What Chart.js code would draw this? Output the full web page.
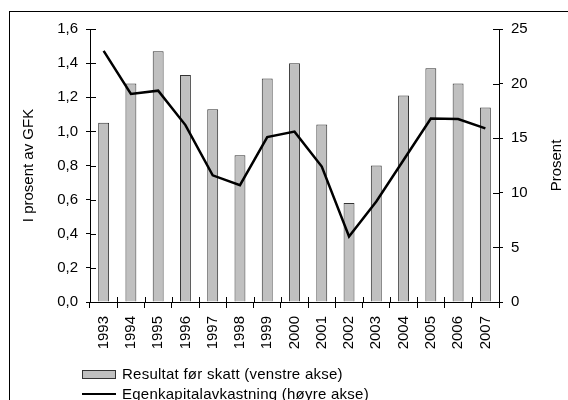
<!DOCTYPE html>
<html>
<head>
<meta charset="utf-8">
<script src="https://cdn.jsdelivr.net/npm/chart.js@4/dist/chart.umd.min.js"></script>
<style>
    html, body {
        margin: 0;
        padding: 0;
        width: 568px;
        height: 400px;
        overflow: hidden;
        background: #ffffff;
        font-family: "Liberation Sans", Arial, sans-serif;
    }

    .chart-box {
        position: absolute;
        left: 0;
        top: 0;
        width: 568px;
        height: 360px;
    }

    .frame {
        position: absolute;
        left: 9px;
        top: 11px;
        width: 600px;
        height: 420px;
        border-top: 1px solid #000;
        border-left: 1px solid #000;
        pointer-events: none;
    }

    .legend-row {
        position: absolute;
        left: 82px;
        height: 18px;
        line-height: 18px;
        font-size: 15px;
        letter-spacing: 0.25px;
        color: #000;
        white-space: nowrap;
    }

    .legend-row span {
        position: absolute;
        left: 40px;
        top: 0;
    }

    .legend-bar {
        position: absolute;
        left: 0;
        top: 5px;
        width: 32px;
        height: 7px;
        background: #c0c0c0;
        border: 1px solid #333;
    }

    .legend-line {
        position: absolute;
        left: 0;
        top: 8px;
        width: 34px;
        height: 2px;
        background: #000;
    }
</style>
</head>
<body>
<div class="chart-box"><canvas id="chart"></canvas></div>
<div class="frame"></div>

<div class="legend-row" style="top: 365px;">
    <div class="legend-bar"></div><span>Resultat før skatt (venstre akse)</span>
</div>
<div class="legend-row" style="top: 385px;">
    <div class="legend-line"></div><span>Egenkapitalavkastning (høyre akse)</span>
</div>

<script>
const years = ['1993', '1994', '1995', '1996', '1997', '1998', '1999', '2000',
    '2001', '2002', '2003', '2004', '2005', '2006', '2007'];

// Resultat før skatt, i prosent av GFK (venstre akse)
const resultatForSkatt = [1.05, 1.28, 1.47, 1.33, 1.13, 0.86, 1.31, 1.40,
    1.04, 0.58, 0.80, 1.21, 1.37, 1.28, 1.14];

// Egenkapitalavkastning, prosent (høyre akse)
const egenkapitalavkastning = [23.0, 19.05, 19.35, 16.2, 11.6, 10.7, 15.1, 15.6,
    12.4, 6.0, 9.2, 13.0, 16.8, 16.75, 15.9];

const leftTicks = [0, 0.2, 0.4, 0.6, 0.8, 1.0, 1.2, 1.4, 1.6];
const rightTicks = [0, 5, 10, 15, 20, 25];

const fontFamily = '"Liberation Sans", Arial, sans-serif';
const axisColor = '#000000';

// tick marks that also reach into the plot, plus the right axis title
const extrasPlugin = {
    id: 'extras',
    afterDatasetsDraw(chart) {
        const ctx = chart.ctx;
        const area = chart.chartArea;
        const y = chart.scales.y;
        const y2 = chart.scales.y2;
        const x = chart.scales.x;

        ctx.save();
        ctx.strokeStyle = axisColor;
        ctx.lineWidth = 1;
        ctx.beginPath();

        leftTicks.forEach((value) => {
            const py = Math.round(y.getPixelForValue(value)) + 0.5;
            ctx.moveTo(area.left, py);
            ctx.lineTo(area.left + 6, py);
        });

        rightTicks.forEach((value) => {
            const py = Math.round(y2.getPixelForValue(value)) + 0.5;
            ctx.moveTo(area.right, py);
            ctx.lineTo(area.right - 6, py);
        });

        for (let i = 0; i <= years.length; i++) {
            const px = Math.round(x.getPixelForTick(Math.min(i, years.length - 1))
                + (i === years.length ? x.width / years.length / 2 : -x.width / years.length / 2)) + 0.5;
            ctx.moveTo(px, area.bottom);
            ctx.lineTo(px, area.bottom - 5);
        }

        ctx.stroke();

        ctx.fillStyle = '#000';
        ctx.font = '15px ' + fontFamily;
        ctx.textAlign = 'center';
        ctx.textBaseline = 'middle';
        ctx.translate(557, (area.top + area.bottom) / 2);
        ctx.rotate(-Math.PI / 2);
        ctx.fillText('Prosent', 0, 0);
        ctx.restore();
    },
};

new Chart(document.getElementById('chart'), {
    type: 'bar',

    data: {
        labels: years,

        datasets: [
            {
                label: 'Egenkapitalavkastning (høyre akse)',
                type: 'line',
                data: egenkapitalavkastning,
                yAxisID: 'y2',
                borderColor: '#000000',
                borderWidth: 2.5,
                pointRadius: 0,
                tension: 0,
                fill: false,
                order: 0,
            },
            {
                label: 'Resultat før skatt (venstre akse)',
                data: resultatForSkatt,
                yAxisID: 'y',
                backgroundColor: '#c0c0c0',
                borderColor: '#333333',
                borderWidth: 1,
                barPercentage: 0.4,
                categoryPercentage: 1.0,
                order: 1,
            },
        ],
    },

    options: {
        responsive: true,
        maintainAspectRatio: false,
        animation: false,
        devicePixelRatio: 1,

        layout: {
            padding: { top: 29, bottom: 8, left: 0, right: 0 },
        },

        plugins: {
            legend: { display: false },
            tooltip: { enabled: false },
        },

        scales: {
            x: {
                type: 'category',
                offset: true,
                afterFit(scale) {
                    scale.height = 50;
                },
                grid: {
                    offset: true,
                    drawOnChartArea: false,
                    tickLength: 6,
                    color: axisColor,
                },
                border: { color: axisColor, width: 1 },
                ticks: {
                    color: '#000',
                    font: { family: fontFamily, size: 15 },
                    minRotation: 90,
                    maxRotation: 90,
                    padding: 8,
                    autoSkip: false,
                },
            },

            y: {
                type: 'linear',
                position: 'left',
                min: 0,
                max: 1.6,
                afterFit(scale) {
                    scale.width = 90;
                },
                afterBuildTicks(scale) {
                    scale.ticks = leftTicks.map((value) => ({ value }));
                },
                grid: {
                    drawOnChartArea: false,
                    tickLength: 4,
                    color: axisColor,
                },
                border: { color: axisColor, width: 1 },
                ticks: {
                    color: '#000',
                    font: { family: fontFamily, size: 15 },
                    padding: 8,
                    callback(value) {
                        return value.toFixed(1).replace('.', ',');
                    },
                },
                title: {
                    display: true,
                    text: 'I prosent av GFK',
                    color: '#000',
                    font: { family: fontFamily, size: 15 },
                    padding: { top: 20 },
                },
            },

            y2: {
                type: 'linear',
                position: 'right',
                min: 0,
                max: 25,
                afterFit(scale) {
                    scale.width = 69;
                },
                afterBuildTicks(scale) {
                    scale.ticks = rightTicks.map((value) => ({ value }));
                },
                grid: {
                    drawOnChartArea: false,
                    tickLength: 4,
                    color: axisColor,
                },
                border: { color: axisColor, width: 1 },
                ticks: {
                    color: '#000',
                    font: { family: fontFamily, size: 15 },
                    padding: 8,
                },
            },
        },
    },

    plugins: [extrasPlugin],
});
</script>
</body>
</html>
